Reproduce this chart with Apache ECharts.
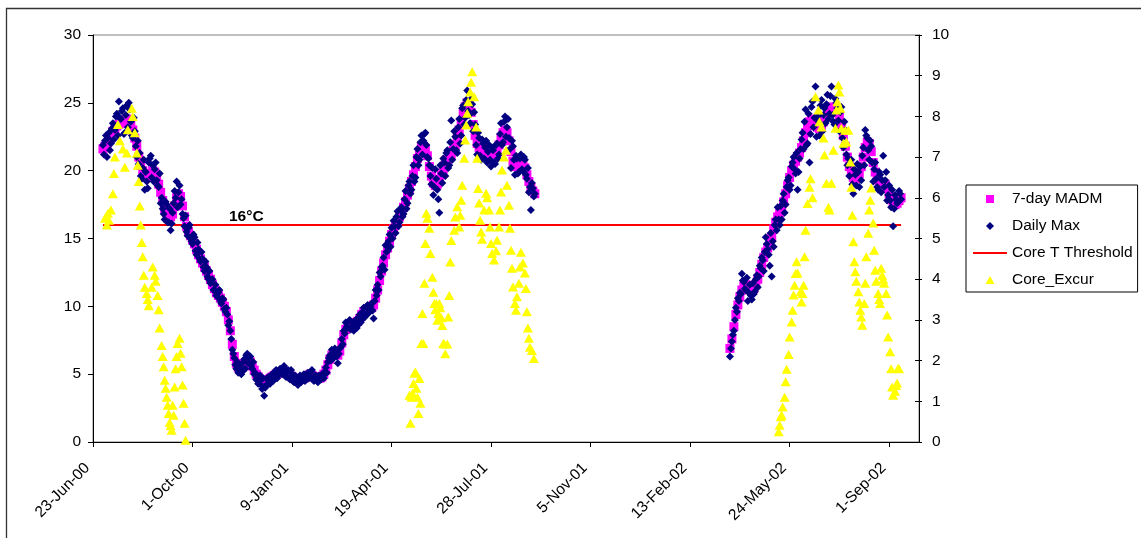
<!DOCTYPE html>
<html><head><meta charset="utf-8">
<script src="https://cdn.jsdelivr.net/npm/echarts@6/dist/echarts.min.js"></script>
<style>html,body{margin:0;padding:0;background:#fff}#c{width:1141px;height:538px}</style>
</head><body><div id="c"></div>
<script>
// ---- Data (dates are Excel serial day numbers; 36700 = 23-Jun-00) ----
const xMin = 36700, xMax = 37530;
const xTickValues = [36700, 36800, 36900, 37000, 37100, 37200, 37300, 37400, 37500];
const xTickLabels = ['23-Jun-00','1-Oct-00','9-Jan-01','19-Apr-01','28-Jul-01','5-Nov-01','13-Feb-02','24-May-02','1-Sep-02'];
const seg1Start = 36710, seg2Start = 37340, dayStep = 2;

// 7-day MADM, every second day
const madm1 = [
21.6,21.8,22.0,22.3,22.6,22.9,
23.1,23.3,23.4,23.5,23.6,23.7,23.8,23.7,23.4,23.0,22.4,21.8,
21.0,20.4,20.0,19.7,19.6,19.6,19.8,20.0,19.9,19.5,19.0,18.4,
17.8,17.2,16.9,16.7,16.6,16.8,17.4,18.0,18.3,18.1,17.4,16.6,
15.9,15.5,15.2,14.9,14.6,14.2,13.8,13.5,13.2,12.9,12.6,12.3,
12.0,11.6,11.3,11.0,10.8,10.6,10.3,10.0,9.6,9.0,8.2,7.2,
6.3,5.8,5.5,5.4,5.5,5.7,5.9,6.0,5.9,5.6,5.3,5.0,
4.8,4.6,4.4,4.4,4.5,4.6,4.7,4.8,4.9,5.0,5.1,5.1,
5.2,5.2,5.1,5.0,4.9,4.8,4.7,4.6,4.6,4.6,4.7,4.7,
4.8,4.9,5.0,4.9,4.8,4.7,4.7,4.7,4.8,5.0,5.3,5.7,
6.1,6.4,6.6,6.5,6.4,6.7,7.3,7.9,8.3,8.6,8.7,8.7,
8.7,8.8,8.9,9.1,9.4,9.6,9.7,9.8,9.9,9.9,10.1,10.6,
11.2,11.9,12.6,13.2,13.8,14.3,14.8,15.3,15.7,16.0,16.3,16.6,
16.9,17.3,17.7,18.2,18.7,19.2,19.7,20.3,20.9,21.4,21.7,21.8,
21.6,21.1,20.3,19.6,19.1,18.9,19.0,19.3,19.7,20.1,20.5,20.8,
21.0,21.2,21.5,21.9,22.4,23.0,23.6,24.2,24.7,25.0,24.9,24.3,
23.4,22.6,22.0,21.7,21.5,21.4,21.3,21.2,21.1,21.0,21.0,21.1,
21.4,21.9,22.4,22.8,23.0,22.8,22.2,21.4,20.7,20.3,20.3,20.5,
20.6,20.5,20.2,19.7,19.2,18.8,18.5,18.3
];
// Daily max, even days
const dailyMax1 = [
21.9,22.2,21.0,22.8,22.0,23.5,
23.0,24.2,25.1,23.8,24.6,22.8,24.8,25.0,23.6,22.4,22.9,21.0,
20.5,19.6,20.2,18.6,19.2,20.6,21.1,20.4,20.1,19.3,18.8,17.6,
17.2,16.4,17.5,16.2,15.6,16.9,18.5,19.2,18.4,17.5,16.8,15.9,
15.5,15.8,15.0,14.6,15.1,13.8,14.2,13.3,13.5,12.6,12.9,12.0,
11.7,12.0,11.2,10.8,11.0,10.4,10.6,9.8,9.9,8.6,8.2,6.8,
6.2,5.4,5.1,5.6,5.2,6.1,6.4,5.8,6.3,5.4,5.0,4.6,
4.3,4.9,3.9,3.4,4.2,4.8,4.3,5.0,4.6,5.3,4.9,5.4,
5.0,5.6,4.8,5.3,4.6,5.0,4.4,4.8,4.2,4.9,4.5,5.0,
4.6,5.1,4.8,5.3,4.5,4.9,4.4,4.8,5.0,4.7,5.5,5.9,
6.4,6.8,6.2,6.7,5.8,6.9,7.6,8.2,8.8,8.4,9.0,8.5,
8.2,9.0,8.6,9.4,9.0,9.9,9.3,10.1,9.6,10.2,9.1,11.2,
11.6,12.5,12.9,13.6,14.5,14.1,15.3,15.8,16.3,15.4,17.0,16.2,
17.3,16.8,18.5,17.6,19.2,18.6,20.4,19.5,21.6,20.8,22.6,22.2,
22.8,21.0,20.4,19.0,18.2,20.1,18.6,16.9,19.8,20.9,19.6,21.5,
20.4,23.7,21.6,22.5,21.3,23.8,22.6,24.8,23.9,25.9,24.1,25.3,
22.9,23.4,21.2,22.4,20.8,22.0,21.7,20.6,21.9,20.3,21.5,20.5,
22.0,21.2,23.5,22.1,24.0,23.2,22.4,20.2,21.8,19.7,20.9,19.9,
21.2,20.0,20.8,19.4,18.4,17.1,18.7,18.3
];
// Daily max, odd days
const dailyMax1Odd = [
21.2,22.6,22.4,21.5,23.1,22.3,
24.0,22.6,23.9,24.4,22.7,24.1,23.2,24.5,22.6,23.9,21.8,22.2,
21.3,19.4,20.8,19.9,18.7,20.9,19.5,19.2,20.6,18.9,19.8,18.0,
16.8,17.7,16.2,17.2,16.1,17.6,18.0,17.3,18.9,17.9,16.5,16.7,
15.2,16.0,14.8,15.3,14.1,14.7,13.5,14.0,12.9,13.3,12.2,12.6,
11.9,11.2,11.6,10.7,11.2,10.2,10.5,9.6,9.4,8.9,7.6,6.5,
5.7,5.9,5.3,5.0,5.9,5.4,6.5,6.2,5.6,5.9,5.1,4.7,
4.5,4.2,4.7,4.0,4.6,4.3,4.9,4.5,5.2,4.7,5.0,5.3,
5.4,4.9,5.2,4.7,5.3,4.5,4.9,4.3,4.7,4.4,4.9,4.5,
5.0,4.7,5.2,4.6,4.9,4.5,4.9,4.6,4.9,5.2,5.1,6.2,
6.0,6.5,6.9,6.3,6.5,7.0,7.2,8.0,8.5,8.9,8.3,8.8,
8.9,8.4,9.2,8.8,9.6,9.2,9.9,9.5,10.0,9.7,10.4,10.8,
11.2,12.2,13.0,12.7,14.0,14.8,14.4,15.0,15.9,16.6,15.9,17.1,
16.6,17.9,17.2,18.9,18.3,19.6,19.2,21.0,20.4,22.1,21.2,22.7,
21.9,20.9,19.6,20.2,18.8,19.4,17.9,20.4,19.1,20.6,21.3,20.2,
22.1,20.8,22.9,21.5,23.2,22.0,24.6,23.4,25.2,24.4,23.5,24.9,
24.3,21.9,22.8,21.1,22.3,20.9,22.2,21.4,20.8,21.7,20.6,21.9,
20.9,22.7,21.9,23.6,22.5,23.8,21.6,22.2,20.8,21.1,19.8,20.9,
20.1,21.0,19.7,20.2,18.8,19.1,18.1
];
const madm2 = [
6.9,7.6,8.5,9.4,10.1,10.7,11.2,11.5,11.6,11.5,11.3,11.2,
11.3,11.6,12.0,12.5,13.1,13.6,14.0,14.3,14.6,15.1,15.7,16.2,
16.6,16.9,17.2,17.7,18.3,18.9,19.5,20.0,20.4,20.7,21.0,21.3,
21.7,22.2,22.8,23.3,23.6,23.8,23.7,23.4,23.2,23.1,23.3,23.6,
24.0,24.4,24.6,24.7,24.5,24.4,24.3,24.0,23.4,22.6,21.8,21.0,
20.3,19.8,19.5,19.4,19.5,19.8,20.3,21.0,21.7,22.1,22.0,21.4,
20.6,19.9,19.4,19.1,19.0,19.1,19.0,18.7,18.3,17.9,17.6,17.5,
17.6,17.8,18.0
];
const dailyMax2 = [
6.3,7.4,8.2,9.9,10.6,11.0,12.4,11.8,11.2,10.4,11.6,10.5,
10.9,12.0,11.4,13.0,13.6,12.6,15.1,14.2,13.0,12.2,14.4,16.4,
17.3,16.0,16.4,18.3,17.5,19.3,18.6,20.3,21.0,19.8,18.6,20.9,
22.3,21.6,24.5,22.0,20.6,24.7,23.2,26.2,24.0,22.6,25.2,24.1,
23.5,25.6,24.2,26.2,23.6,25.3,24.6,22.9,24.7,21.7,23.0,20.4,
19.6,20.8,18.3,19.7,20.5,18.8,19.3,21.7,23.0,22.4,20.8,21.8,
19.2,20.6,18.8,19.9,18.4,21.1,19.3,17.8,18.9,17.3,15.9,18.2,
17.6,18.5,17.9
];
const dailyMax2Odd = [
6.9,7.9,9.0,9.6,10.4,10.9,11.9,11.3,12.1,11.0,10.8,11.7,
11.1,12.3,12.2,12.8,13.4,14.0,14.6,13.8,15.4,14.8,16.0,15.6,
16.4,17.4,17.8,16.9,18.8,19.5,18.9,20.6,20.1,21.3,19.9,21.6,
22.8,23.6,21.9,24.2,22.7,25.1,23.9,22.5,23.6,24.8,22.9,24.6,
24.9,23.8,25.5,24.1,23.4,25.0,23.7,24.3,22.4,23.6,21.2,20.9,
20.5,19.0,20.1,18.9,19.9,20.3,21.1,20.4,22.6,21.5,22.2,20.6,
20.1,19.4,18.6,19.7,19.3,18.8,19.9,18.2,17.8,18.6,17.2,17.9,
17.7,18.3
];
// Core_Excur: day number after 23-Jun-00, value (right axis)
const excurDays = [
12,14,15,16,18,20,21,22,25,27,30,32,34,35,39,40,42,44,45,46,47,48,49,50,51,52,54,55,56,59,60,62,63,65,66,67,69,70,71,72,73,74,75,76,77,78,79,80,81,82,83,84,85,87,88,89,90,91,92,93,
318,319,320,321,322,323,324,325,326,327,328,329,330,331,332,333,334,335,336,338,339,341,342,343,344,345,346,347,348,349,350,351,352,353,354,356,357,358,359,360,363,364,366,368,369,370,371,373,374,375,376,377,379,380,381,383,385,386,387,388,389,390,391,393,395,396,398,399,400,401,403,405,406,408,409,410,411,413,415,416,418,419,420,421,422,424,425,426,428,429,430,432,434,435,436,437,438,439,441,443,
689,690,691,692,693,695,696,697,699,700,702,703,704,705,706,707,708,711,712,713,714,715,716,718,720,721,723,726,729,730,732,734,735,737,739,740,742,744,746,747,748,749,750,751,752,754,756,757,759,761,762,763,764,765,766,767,769,770,771,772,773,775,776,777,779,780,781,782,784,785,786,787,789,790,791,792,793,794,795,797,798,799,801,802,803,804,806,807,808,809,810
];
const excurVals = [
5.5,5.33,5.62,5.45,5.7,6.1,6.6,7.0,7.8,7.4,7.2,6.75,7.1,7.67,8.2,8.0,7.6,7.1,6.8,6.4,5.8,5.33,4.9,4.55,4.1,3.8,3.65,3.5,3.35,3.8,4.3,4.1,3.95,3.6,3.25,2.8,2.37,2.1,1.85,1.52,1.32,1.1,0.9,0.7,0.48,0.4,0.29,0.9,0.66,1.35,1.8,2.1,2.42,2.55,2.18,1.85,1.4,0.95,0.46,0.04,
1.15,0.46,1.1,1.2,1.44,1.69,1.72,1.32,1.1,0.7,1.56,0.95,2.42,3.16,2.42,3.9,4.88,5.62,5.5,5.25,4.63,4.05,3.68,3.4,3.25,3.4,2.99,3.16,3.4,3.3,3.05,2.86,2.42,2.41,2.17,2.41,3.07,3.6,4.42,4.95,5.2,5.53,5.78,5.28,5.57,5.94,6.31,6.97,7.42,7.79,8.08,8.36,8.6,8.84,9.1,8.48,7.74,6.97,6.23,5.87,5.45,5.16,4.98,5.7,6.11,6.0,5.7,5.28,4.88,4.63,4.47,4.7,4.96,5.28,5.7,6.14,6.68,7.0,7.17,6.31,5.82,5.25,4.71,4.27,3.81,3.4,3.24,3.57,3.9,4.3,4.66,4.4,4.15,3.77,3.2,2.8,2.55,2.33,2.25,2.05,
0.25,0.41,0.62,0.66,0.86,1.1,1.48,1.79,2.15,2.58,2.95,3.24,3.61,3.85,4.14,4.43,4.15,3.69,3.44,3.65,3.85,4.55,5.2,5.86,6.26,6.47,6.0,8.48,8.16,7.87,7.74,7.47,7.05,6.36,5.77,5.7,6.36,7.17,7.71,8.16,8.36,8.77,8.6,8.2,7.71,7.34,7.66,7.37,7.66,6.88,6.26,5.57,4.92,4.43,4.18,3.95,3.69,3.44,3.24,3.07,2.87,3.4,3.9,4.55,5.13,5.7,5.94,6.24,5.38,4.71,4.22,3.95,3.65,3.5,3.4,4.27,4.1,4.0,3.9,3.65,3.12,2.58,2.22,1.8,1.35,1.15,1.25,1.39,1.45,1.81,1.8
];
const thresholdValue = 16;
const thresholdLabel = '16°C';
const thresholdLabelDate = 36854;
const leftAxis = {min: 0, max: 30, interval: 5};
const rightAxis = {min: 0, max: 10, interval: 1};

// ---- Build series data ----
const toPairs = (arr, start) => arr.map((v, i) => [start + i * dayStep, v]);
const madmData = toPairs(madm1, seg1Start).concat(toPairs(madm2, seg2Start));
const maxData = toPairs(dailyMax1, seg1Start)
  .concat(toPairs(dailyMax1Odd, seg1Start + 1))
  .concat(toPairs(dailyMax2, seg2Start))
  .concat(toPairs(dailyMax2Odd, seg2Start + 1));
const excurData = excurDays.map((d, i) => [xMin + d, excurVals[i]]);
const lastDate = seg2Start + (madm2.length - 1) * dayStep;
const thresholdData = [[seg1Start, thresholdValue], [lastDate, thresholdValue]];

const FONT = 'Liberation Sans, Arial, sans-serif';
const FS = 15.5;
const chart = echarts.init(document.getElementById('c'), null, {renderer: 'canvas'});
chart.setOption({
  animation: false,
  backgroundColor: '#fff',
  textStyle: {fontFamily: FONT},
  grid: {left: 93, right: 222, top: 35, bottom: 96, show: true, borderColor: '#808080', borderWidth: 1, backgroundColor: 'transparent'},
  graphic: [{type: 'rect', silent: true, z: -10,
    shape: {x: 6.5, y: 8.5, width: 1150, height: 550},
    style: {fill: 'none', stroke: '#333', lineWidth: 1.3}}],
  legend: {
    orient: 'vertical', left: 966, top: 185,
    padding: [6, 5, 4, 7], itemGap: 11, itemWidth: 34, itemHeight: 8,
    symbolKeepAspect: true,
    borderColor: '#000', borderWidth: 1, backgroundColor: '#fff',
    textStyle: {fontSize: FS, color: '#000', fontFamily: FONT},
    data: [
      {name: '7-day MADM', icon: 'path://M0,0L10,0L10,10L0,10Z'},
      {name: 'Daily Max', icon: 'path://M5,0L10,5L5,10L0,5Z'},
      {name: 'Core T Threshold', icon: 'path://M0,0L34,0L34,2L0,2Z'},
      {name: 'Core_Excur', icon: 'path://M5,0L10,9L0,9Z'}
    ]
  },
  xAxis: {
    type: 'value', min: xMin, max: xMax, interval: 100,
    axisLine: {show: true, onZero: false, lineStyle: {color: '#000', width: 1}},
    axisTick: {show: true, length: 5, lineStyle: {color: '#000'}, customValues: xTickValues},
    axisLabel: {rotate: 45, margin: 18, padding: [0, 8, 0, 0], fontSize: FS, color: '#000', fontFamily: FONT,
      customValues: xTickValues,
      formatter: v => { const i = xTickValues.indexOf(v); return i >= 0 ? xTickLabels[i] : ''; }},
    splitLine: {show: false}
  },
  yAxis: [
    {type: 'value', position: 'left', min: leftAxis.min, max: leftAxis.max, interval: leftAxis.interval,
      axisLine: {show: true, lineStyle: {color: '#000'}},
      axisTick: {show: true, length: 5, lineStyle: {color: '#000'}},
      axisLabel: {margin: 12, fontSize: FS, color: '#000', fontFamily: FONT},
      splitLine: {show: false}},
    {type: 'value', position: 'right', min: rightAxis.min, max: rightAxis.max, interval: rightAxis.interval,
      axisLine: {show: true, lineStyle: {color: '#000'}},
      axisTick: {show: true, length: 3, lineStyle: {color: '#000'}},
      axisLabel: {margin: 13, fontSize: FS, color: '#000', fontFamily: FONT},
      splitLine: {show: false}},
    {type: 'value', position: 'right', min: rightAxis.min, max: rightAxis.max, interval: rightAxis.interval,
      axisLine: {show: false},
      axisTick: {show: true, inside: true, length: 4, lineStyle: {color: '#000'}},
      axisLabel: {show: false},
      splitLine: {show: false}}
  ],
  series: [
    {name: '7-day MADM', type: 'scatter', symbol: 'rect', symbolSize: 9, z: 2,
      itemStyle: {color: '#FF00FF', opacity: 1}, data: madmData},
    {name: 'Daily Max', type: 'scatter', symbol: 'diamond', symbolSize: 8, z: 3,
      itemStyle: {color: '#000080', opacity: 1}, data: maxData},
    {name: 'Core T Threshold', type: 'line', symbol: 'none', z: 1,
      lineStyle: {color: '#FF0000', width: 2}, itemStyle: {color: '#FF0000'},
      data: thresholdData,
      markPoint: {symbol: 'circle', symbolSize: 0, silent: true,
        label: {show: true, position: 'inside', offset: [0, -8], formatter: thresholdLabel,
          fontSize: FS, fontWeight: 'bold', color: '#000', fontFamily: FONT},
        data: [{coord: [thresholdLabelDate, thresholdValue]}]}},
    {name: 'Core_Excur', type: 'scatter', yAxisIndex: 1, symbol: 'triangle', symbolSize: [10, 9], z: 4,
      itemStyle: {color: '#FFFF00', opacity: 1}, data: excurData}
  ]
});
</script>
</body></html>
